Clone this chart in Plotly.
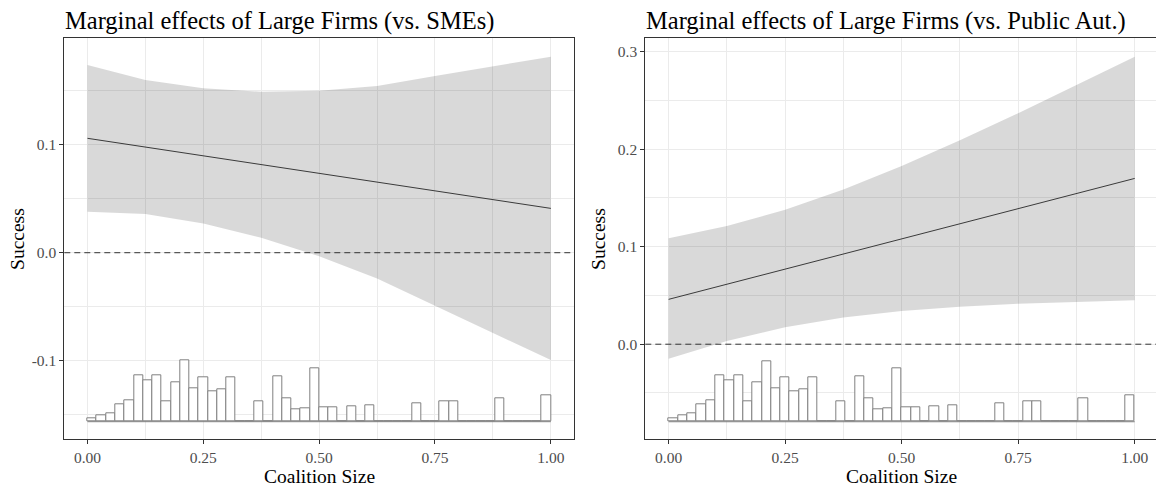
import plotly.graph_objects as go

# ---------------- data ----------------
band_x = [0.0, 0.125, 0.25, 0.375, 0.5, 0.625, 0.75, 0.875, 1.0]

sme_upper = [0.1736, 0.1597, 0.1521, 0.1489, 0.1499, 0.1542, 0.1635, 0.1721, 0.1813]
sme_lower = [0.0379, 0.0357, 0.0271, 0.0139, -0.0033, -0.0238, -0.0493, -0.0743, -0.0993]
sme_line_x = [0.0, 1.0]
sme_line_y = [0.1058, 0.041]

pub_upper = [0.1086, 0.1211, 0.1379, 0.1587, 0.1828, 0.2091, 0.2369, 0.2656, 0.2949]
pub_lower = [-0.015, 0.0033, 0.0173, 0.0273, 0.034, 0.0385, 0.0415, 0.0436, 0.045]
pub_line_x = [0.0, 1.0]
pub_line_y = [0.046, 0.170]

# histogram of coalition size (50 bins of width 0.02 on [0, 1])
bin_edges = [i * 0.02 for i in range(51)]
hist_counts = [1.0, 2.1, 2.8, 5.7, 7.3, 15.4, 13.8, 15.6, 6.9, 13.1,
               20.3, 11.1, 14.7, 10.2, 10.9, 14.8, 0, 0, 6.8, 0,
               15.1, 7.8, 4.1, 4.4, 17.9, 4.7, 4.9, 0, 5.3, 0,
               5.4, 0, 0, 0, 0, 6.1, 0, 0, 6.8, 6.9,
               0, 0, 0, 0, 7.7, 0, 0, 0, 0, 8.9]

titles = ["Marginal effects of Large Firms (vs. SMEs)",
          "Marginal effects of Large Firms (vs. Public Aut.)"]
x_title = "Coalition Size"
y_title = "Success"

x_tickvals = [0.0, 0.25, 0.5, 0.75, 1.0]
x_ticktext = ["0.00", "0.25", "0.50", "0.75", "1.00"]
x_minor = [0.125, 0.375, 0.625, 0.875]

sme_y_tickvals = [-0.1, 0.0, 0.1]
sme_y_ticktext = ["-0.1", "0.0", "0.1"]
sme_y_minor = [-0.15, -0.05, 0.05, 0.15]

pub_y_tickvals = [0.0, 0.1, 0.2, 0.3]
pub_y_ticktext = ["0.0", "0.1", "0.2", "0.3"]
pub_y_minor = [-0.05, 0.05, 0.15, 0.25]

# ---------------- styling / layout ----------------
OFF = 8  # page body margin compensation
W, H = 1164 - OFF, 490 - OFF
FONT = "Liberation Serif"
GRID = "#ebebeb"
DARK = "#333333"
TICKC = "#4d4d4d"
HISTC = "#808080"


def px_x(v):
    return (v - OFF) / W


def px_y(v):
    return 1 - (v - OFF) / H


panels = [
    dict(x0=64.3, x1=574.0, upper=sme_upper, lower=sme_lower, lx=sme_line_x, ly=sme_line_y,
         yr=[-0.1723, 0.1983], tv=sme_y_tickvals, tt=sme_y_ticktext, mn=sme_y_minor,
         hbase=-0.1563, hscale=3 / 1081),
    dict(x0=645.3, x1=1158.0, upper=pub_upper, lower=pub_lower, lx=pub_line_x, ly=pub_line_y,
         yr=[-0.0972, 0.3137], tv=pub_y_tickvals, tt=pub_y_ticktext, mn=pub_y_minor,
         hbase=-0.0795, hscale=3 / 975),
]
top_px, bot_px = 38.3, 439.0

fig = go.Figure()
annotations = []
shapes = []
bin_centers = [(bin_edges[i] + bin_edges[i + 1]) / 2 for i in range(len(bin_edges) - 1)]
bin_width = bin_edges[1] - bin_edges[0]

for i, p in enumerate(panels):
    xa = "x" if i == 0 else "x2"
    ya = "y" if i == 0 else "y2"
    # ribbon
    fig.add_trace(go.Scatter(x=band_x + band_x[::-1], y=p["upper"] + p["lower"][::-1],
                             fill="toself", fillcolor="rgba(0,0,0,0.15)", line=dict(width=0),
                             mode="lines", hoverinfo="skip", showlegend=False, xaxis=xa, yaxis=ya))
    # effect line
    fig.add_trace(go.Scatter(x=p["lx"], y=p["ly"], mode="lines",
                             line=dict(color="#3a3a3a", width=1), showlegend=False,
                             xaxis=xa, yaxis=ya))
    # histogram bars
    fig.add_trace(go.Bar(x=bin_centers, y=[c * p["hscale"] for c in hist_counts],
                         base=p["hbase"], width=bin_width,
                         marker=dict(color="white", line=dict(color=HISTC, width=1)),
                         showlegend=False, xaxis=xa, yaxis=ya))
    # histogram baseline (empty bins)
    fig.add_trace(go.Scatter(x=[bin_edges[0], bin_edges[-1]], y=[p["hbase"], p["hbase"]],
                             mode="lines", line=dict(color=HISTC, width=1),
                             showlegend=False, xaxis=xa, yaxis=ya))
    # dashed zero line
    shapes.append(dict(type="line", xref=f"{xa} domain", yref=ya, x0=0, x1=1, y0=0, y1=0,
                       line=dict(color=DARK, width=1, dash="6px,4px")))

    dom_x = [px_x(p["x0"]), px_x(p["x1"])]
    dom_y = [px_y(bot_px), px_y(top_px)]
    axis_common = dict(showline=True, mirror=True, linecolor=DARK, linewidth=1,
                       ticks="outside", ticklen=4, tickcolor=DARK, tickwidth=1,
                       showgrid=True, gridcolor=GRID, gridwidth=1, zeroline=False,
                       tickfont=dict(family=FONT, size=15.5, color=TICKC))
    xkey = "xaxis" if i == 0 else "xaxis2"
    ykey = "yaxis" if i == 0 else "yaxis2"
    fig.update_layout(**{
        xkey: dict(domain=dom_x, range=[-0.05, 1.05], tickmode="array",
                   tickvals=x_tickvals, ticktext=x_ticktext, anchor=ya,
                   minor=dict(tickmode="array", tickvals=x_minor, showgrid=True,
                              gridcolor=GRID, gridwidth=0.6, ticks=""),
                   **axis_common),
        ykey: dict(domain=dom_y, range=p["yr"], tickmode="array",
                   tickvals=p["tv"], ticktext=p["tt"], anchor=xa,
                   minor=dict(tickmode="array", tickvals=p["mn"], showgrid=True,
                              gridcolor=GRID, gridwidth=0.6, ticks=""),
                   **axis_common),
    })
    # title
    annotations.append(dict(text=titles[i], xref="paper", yref="paper",
                            x=px_x(p["x0"] - 0.5), y=px_y(21), xanchor="left", yanchor="middle",
                            showarrow=False, borderpad=0,
                            font=dict(family=FONT, size=24.5, color="black")))
    # x title
    annotations.append(dict(text=x_title, xref="paper", yref="paper",
                            x=px_x((p["x0"] + p["x1"]) / 2), y=px_y(476),
                            xanchor="center", yanchor="middle", showarrow=False,
                            font=dict(family=FONT, size=19.5, color="black")))
    # y title
    annotations.append(dict(text=y_title, xref="paper", yref="paper",
                            x=px_x(p["x0"] - 47), y=px_y((top_px + bot_px) / 2),
                            xanchor="center", yanchor="middle", textangle=-90, showarrow=False,
                            font=dict(family=FONT, size=19.5, color="black")))

fig.update_layout(width=W, height=H, margin=dict(l=0, r=0, t=0, b=0),
                  paper_bgcolor="white", plot_bgcolor="white", bargap=0,
                  barmode="overlay", showlegend=False,
                  annotations=annotations, shapes=shapes)

fig.write_html("out.html")
